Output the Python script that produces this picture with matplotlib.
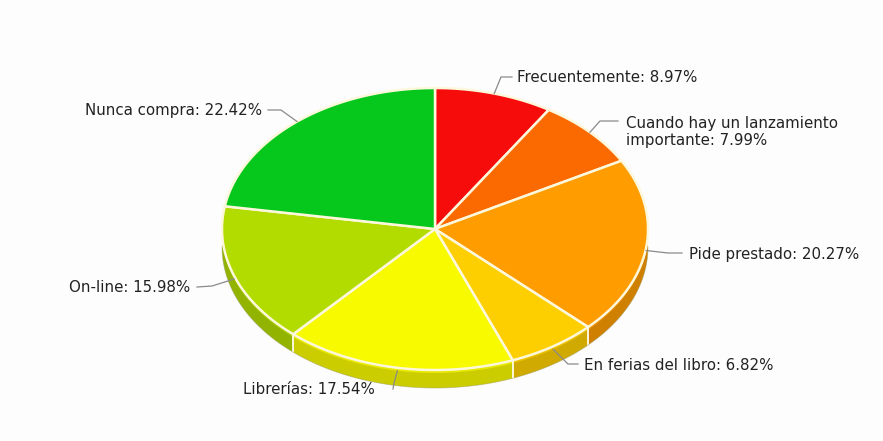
import numpy as np
import matplotlib
matplotlib.use("Agg")
import matplotlib.pyplot as plt
from matplotlib.patches import Polygon
from matplotlib.colors import to_rgb

# Survey shares (percent)
categories = ["Frecuentemente", "Cuando hay un lanzamiento\nimportante", "Pide prestado",
              "En ferias del libro", "Librerías", "On-line", "Nunca compra"]
values = [8.97, 7.99, 20.27, 6.82, 17.54, 15.98, 22.42]
top_colors = ["#f70c0c", "#fb6a00", "#fe9c00", "#fecf00", "#f8fa00", "#b2dc00", "#06c81c"]

# Pie geometry in pixel units
cx, cy = 435.0, 229.0
rx, ry = 213.0, 141.0
depth = 18.0
edge_col = "#fdf8dc"

fig = plt.figure(figsize=(8.83, 4.41), dpi=100)
fig.patch.set_facecolor("#fdfdfd")
ax = fig.add_axes([0, 0, 1, 1])
ax.set_xlim(0, 883)
ax.set_ylim(441, 0)
ax.axis("off")


def pt(theta_deg, dz=0.0):
    t = np.radians(theta_deg)
    return cx + rx * np.cos(t), cy - ry * np.sin(t) + dz


def darker(c, f):
    r, g, b = to_rgb(c)
    return (r * f, g * f, b * f)


# slice angles, starting at 12 o'clock and running clockwise
total = sum(values)
starts, ends = [], []
a = 90.0
for v in values:
    starts.append(a)
    a -= 360.0 * v / total
    ends.append(a)

# visible side walls (front half of the rim)
for s, e, col in zip(starts, ends, top_colors):
    lo, hi = max(e, -180.0), min(s, 0.0)
    if hi <= lo:
        continue
    th = np.linspace(hi, lo, 80)
    upper = [pt(t) for t in th]
    lower = [pt(t, depth) for t in th[::-1]]
    ax.add_patch(Polygon(upper + lower, closed=True, facecolor=darker(col, 0.82),
                         edgecolor="none", zorder=1))
    # light highlight band near the rim
    band = [pt(t, 3.0) for t in th[::-1]]
    ax.add_patch(Polygon(upper + band, closed=True, facecolor=darker(col, 0.93),
                         edgecolor="none", zorder=1.2))
    for t in (hi, lo):
        if -180.0 < t < 0.0:
            x0, y0 = pt(t)
            ax.plot([x0, x0], [y0, y0 + depth], color=edge_col, lw=1.2, zorder=1.5)

# bottom outline of the rim
th = np.linspace(0, -180, 200)
bx, by = zip(*[pt(t, depth) for t in th])
ax.plot(bx, by, color="#9a9a6a", lw=0.6, alpha=0.5, zorder=1.6)

# top faces
for s, e, col in zip(starts, ends, top_colors):
    th = np.linspace(s, e, 120)
    poly = [(cx, cy)] + [pt(t) for t in th]
    ax.add_patch(Polygon(poly, closed=True, facecolor=col, edgecolor=edge_col,
                         lw=1.8, joinstyle="round", zorder=2))

# labels with leader lines
label_layout = [
    # (elbow, line end, text x, text y, ha)
    ((501, 77), (512, 77), 517, 77, "left"),
    ((600, 121), (618, 121), 626, 132, "left"),
    ((668, 253), (682, 253), 689, 255, "left"),
    ((568, 364), (578, 364), 584, 366, "left"),
    ((394, 383), (393, 389), 375, 390, "right"),
    ((212, 286), (197, 287), 190, 287, "right"),
    ((281, 110), (268, 110), 262, 110, "right"),
]
for cat, v, s, e, (elb, lend, tx, ty, ha) in zip(categories, values, starts, ends, label_layout):
    mid = (s + e) / 2.0
    dz = 3.0 if np.sin(np.radians(mid)) < 0 else 0.0
    ax0, ay0 = pt(mid, dz)
    ax.plot([ax0, elb[0], lend[0]], [ay0, elb[1], lend[1]], color="#8a8a8a",
            lw=0.9, zorder=3)
    ax.text(tx, ty, f"{cat}: {v:.2f}%", ha=ha, va="center", fontsize=10.8,
            color="#222222", family="DejaVu Sans", linespacing=1.1, zorder=4)

fig.savefig("out.png", dpi=100, facecolor=fig.get_facecolor())
